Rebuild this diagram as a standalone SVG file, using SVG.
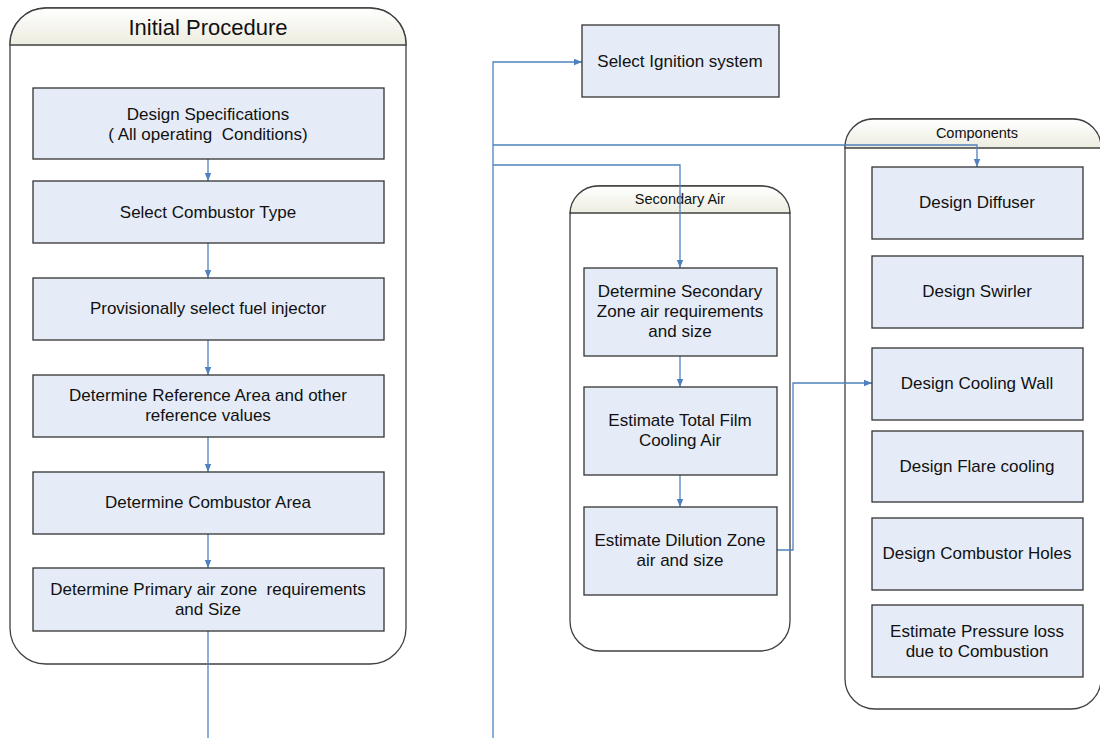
<svg xmlns="http://www.w3.org/2000/svg" width="1100" height="738" viewBox="0 0 1100 738">
  <style>
    .frame { fill: #ffffff; stroke: #404040; stroke-width: 1.3; }
    .band { fill: url(#bandGrad); stroke: #404040; stroke-width: 1.3; }
    .box { fill: #e6ecf7; stroke: #333333; stroke-width: 1.3; }
    text { white-space: pre; }
    .lbl { font-family: "Liberation Sans", Arial, sans-serif; font-size: 17px; fill: #111111; text-anchor: middle; }
    .title { font-family: "Liberation Sans", Arial, sans-serif; font-size: 22px; fill: #111111; text-anchor: middle; }
    .small { font-family: "Liberation Sans", Arial, sans-serif; font-size: 14.5px; fill: #111111; text-anchor: middle; }
    .wire { fill: none; stroke: #4f81bd; stroke-width: 1.3; }
  </style>
  <defs>
    <linearGradient id="bandGrad" x1="0" y1="0" x2="0" y2="1">
      <stop offset="0" stop-color="#ffffff"/>
      <stop offset="1" stop-color="#ececdf"/>
    </linearGradient>
    <marker id="arrow" viewBox="0 0 8 8" refX="8" refY="4" markerWidth="8" markerHeight="8" markerUnits="userSpaceOnUse" orient="auto">
      <path d="M0,0.8 L8,4 L0,7.2 Z" fill="#4f81bd"/>
    </marker>
  </defs>

  <!-- Initial Procedure swimlane -->
  <g id="initial-procedure">
    <rect class="frame" x="10" y="8" width="396" height="656" rx="36" ry="36"/>
    <path class="band" d="M10,45 V44 A36,36 0 0 1 46,8 H370 A36,36 0 0 1 406,44 V45 Z"/>
    <text class="title" x="208" y="35">Initial Procedure</text>
  </g>

  <!-- Secondary Air swimlane -->
  <g id="secondary-air">
    <rect class="frame" x="570" y="186" width="220" height="465" rx="30" ry="30"/>
    <path class="band" d="M570,213 V214 A28,28 0 0 1 598,186 H762 A28,28 0 0 1 790,214 V213 Z"/>
    <text class="small" x="680" y="204">Secondary Air</text>
  </g>

  <!-- Components swimlane -->
  <g id="components">
    <rect class="frame" x="845" y="119" width="256" height="590" rx="30" ry="30"/>
    <path class="band" d="M845,148 V147 A28,28 0 0 1 873,119 H1073 A28,28 0 0 1 1101,147 V148 Z"/>
    <text class="small" x="977" y="138">Components</text>
  </g>

  <!-- Connectors -->
  <g id="connectors">
    <path class="wire" d="M208,159 V181" marker-end="url(#arrow)"/>
    <path class="wire" d="M208,243 V278" marker-end="url(#arrow)"/>
    <path class="wire" d="M208,340 V375" marker-end="url(#arrow)"/>
    <path class="wire" d="M208,437 V472" marker-end="url(#arrow)"/>
    <path class="wire" d="M208,534 V568" marker-end="url(#arrow)"/>
    <path class="wire" d="M208,631 V738"/>
    <path class="wire" d="M493,738 V62 H582" marker-end="url(#arrow)"/>
    <path class="wire" d="M493,145 H977 V167" marker-end="url(#arrow)"/>
    <path class="wire" d="M493,165 H680 V268" marker-end="url(#arrow)"/>
    <path class="wire" d="M680,356 V387" marker-end="url(#arrow)"/>
    <path class="wire" d="M680,475 V507" marker-end="url(#arrow)"/>
    <path class="wire" d="M777,550 H793 V383 H872" marker-end="url(#arrow)"/>
  </g>

  <!-- Initial procedure steps -->
  <g id="design-specifications">
    <rect class="box" x="33" y="88" width="351" height="71"/>
    <text class="lbl" x="208" y="120">Design Specifications</text>
    <text class="lbl" x="208" y="140">( All operating  Conditions)</text>
  </g>
  <g id="select-combustor-type">
    <rect class="box" x="33" y="181" width="351" height="62"/>
    <text class="lbl" x="208" y="218">Select Combustor Type</text>
  </g>
  <g id="select-fuel-injector">
    <rect class="box" x="33" y="278" width="351" height="62"/>
    <text class="lbl" x="208" y="314">Provisionally select fuel injector</text>
  </g>
  <g id="reference-area">
    <rect class="box" x="33" y="375" width="351" height="62"/>
    <text class="lbl" x="208" y="401">Determine Reference Area and other</text>
    <text class="lbl" x="208" y="421">reference values</text>
  </g>
  <g id="combustor-area">
    <rect class="box" x="33" y="472" width="351" height="62"/>
    <text class="lbl" x="208" y="508">Determine Combustor Area</text>
  </g>
  <g id="primary-air-zone">
    <rect class="box" x="33" y="568" width="351" height="63"/>
    <text class="lbl" x="208" y="595">Determine Primary air zone  requirements</text>
    <text class="lbl" x="208" y="615">and Size</text>
  </g>

  <!-- Ignition -->
  <g id="ignition-system">
    <rect class="box" x="582" y="25" width="197" height="72"/>
    <text class="lbl" x="680" y="67">Select Ignition system</text>
  </g>

  <!-- Secondary air steps -->
  <g id="secondary-zone">
    <rect class="box" x="584" y="268" width="193" height="88"/>
    <text class="lbl" x="680" y="297">Determine Secondary</text>
    <text class="lbl" x="680" y="317">Zone air requirements</text>
    <text class="lbl" x="680" y="337">and size</text>
  </g>
  <g id="film-cooling-air">
    <rect class="box" x="584" y="387" width="193" height="88"/>
    <text class="lbl" x="680" y="426">Estimate Total Film</text>
    <text class="lbl" x="680" y="446">Cooling Air</text>
  </g>
  <g id="dilution-zone">
    <rect class="box" x="584" y="507" width="193" height="88"/>
    <text class="lbl" x="680" y="546">Estimate Dilution Zone</text>
    <text class="lbl" x="680" y="566">air and size</text>
  </g>

  <!-- Component steps -->
  <g id="design-diffuser">
    <rect class="box" x="872" y="167" width="211" height="72"/>
    <text class="lbl" x="977" y="208">Design Diffuser</text>
  </g>
  <g id="design-swirler">
    <rect class="box" x="872" y="256" width="211" height="72"/>
    <text class="lbl" x="977" y="297">Design Swirler</text>
  </g>
  <g id="design-cooling-wall">
    <rect class="box" x="872" y="348" width="211" height="72"/>
    <text class="lbl" x="977" y="389">Design Cooling Wall</text>
  </g>
  <g id="design-flare-cooling">
    <rect class="box" x="872" y="431" width="211" height="71"/>
    <text class="lbl" x="977" y="472">Design Flare cooling</text>
  </g>
  <g id="design-combustor-holes">
    <rect class="box" x="872" y="518" width="211" height="72"/>
    <text class="lbl" x="977" y="559">Design Combustor Holes</text>
  </g>
  <g id="pressure-loss">
    <rect class="box" x="872" y="605" width="211" height="72"/>
    <text class="lbl" x="977" y="637">Estimate Pressure loss</text>
    <text class="lbl" x="977" y="657">due to Combustion</text>
  </g>
</svg>
